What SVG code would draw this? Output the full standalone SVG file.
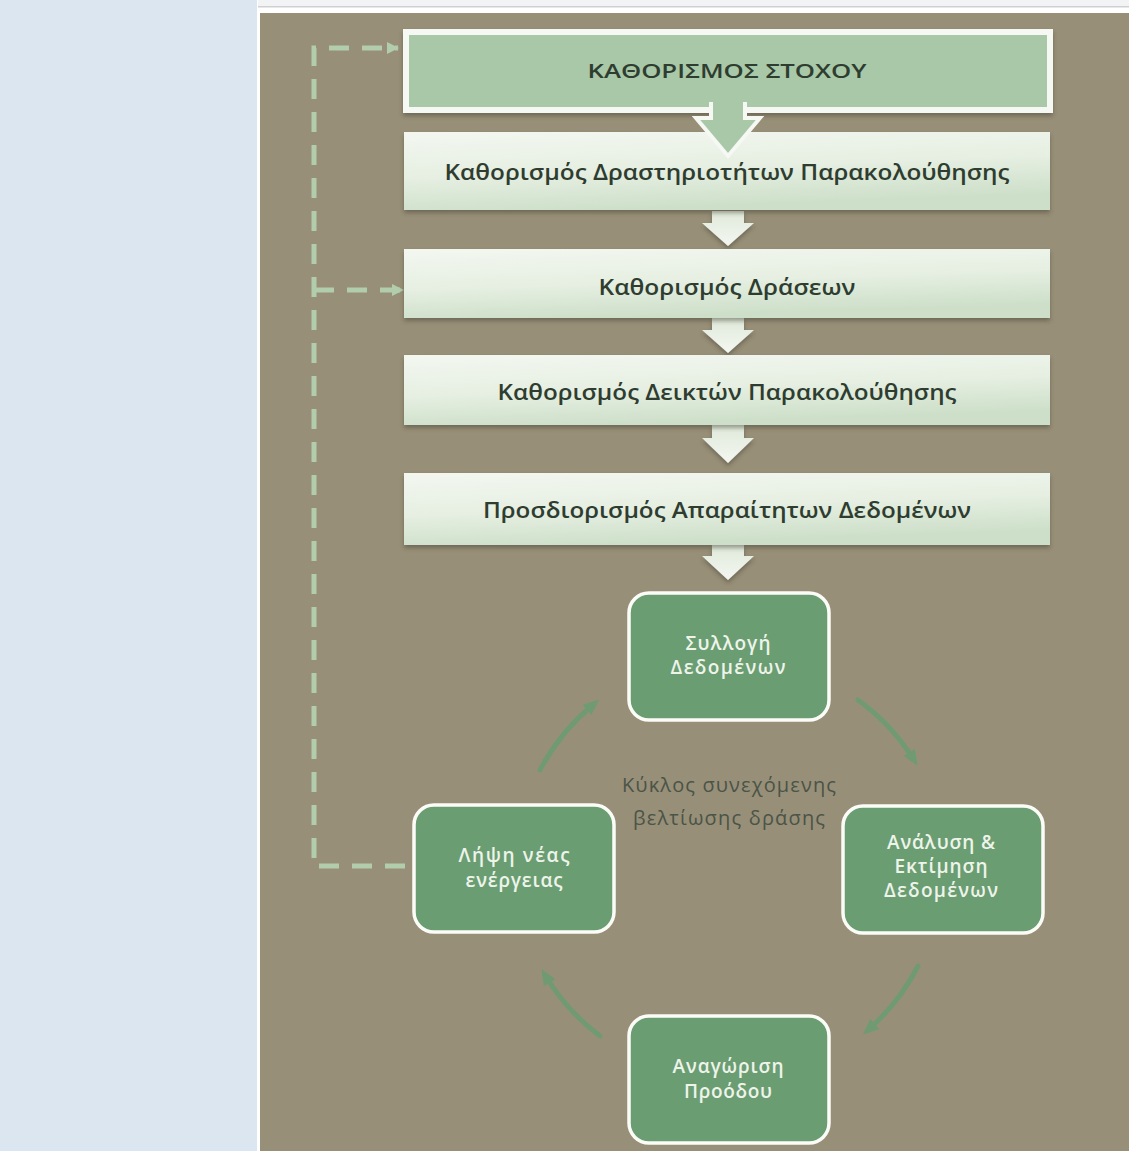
<svg xmlns="http://www.w3.org/2000/svg" width="1129" height="1151" viewBox="0 0 1129 1151">
<style>
.step{font-family:"Open Sans","Noto Sans",sans-serif;font-weight:600;fill:#2e3d30;text-anchor:middle}
.cyc{font-family:"Open Sans","Noto Sans",sans-serif;font-weight:600;font-size:19px;fill:#eef4ea;text-anchor:middle}
.ctr{font-family:"Open Sans","Noto Sans",sans-serif;font-size:20px;fill:#4a5447;text-anchor:middle}
.cbox{fill:#6a9d72;stroke:#fbfcf7;stroke-width:3.5}
.sbox{fill:url(#gBox);filter:url(#sh)}
.darr{fill:url(#gArr);filter:url(#sh)}
.dash{fill:none;stroke:#b2cdac;stroke-width:5;stroke-dasharray:20 13}
.carc{fill:none;stroke:#6a9d72;stroke-width:5;stroke-linecap:round;opacity:0.85}
</style>
<defs>
<linearGradient id="gBox" x1="0" y1="0" x2="0.3" y2="1">
<stop offset="0" stop-color="#f3f7f0"/>
<stop offset="0.55" stop-color="#e6efe2"/>
<stop offset="1" stop-color="#cddfc9"/>
</linearGradient>
<linearGradient id="gArr" x1="0" y1="0" x2="0" y2="1">
<stop offset="0" stop-color="#dfe9da"/>
<stop offset="1" stop-color="#f4f7f1"/>
</linearGradient>
<filter id="sh" x="-5%" y="-10%" width="110%" height="130%">
<feDropShadow dx="0" dy="3" stdDeviation="2" flood-color="#3a3a2a" flood-opacity="0.45"/>
</filter>
<marker id="mDash" viewBox="0 0 12 12" refX="11" refY="6" markerWidth="12" markerHeight="12" markerUnits="userSpaceOnUse" orient="auto">
<path d="M0,0 L12,6 L0,12 Z" fill="#b2cdac"/>
</marker>
<marker id="mCyc" viewBox="0 0 14 14" refX="8" refY="7" markerWidth="16" markerHeight="16" markerUnits="userSpaceOnUse" orient="auto">
<path d="M0,1 L14,7 L0,13 Z" fill="#6a9d72"/>
</marker>
</defs>

<!-- background -->
<rect x="0" y="0" width="1129" height="1151" fill="#ffffff"/>
<rect x="0" y="0" width="257" height="1151" fill="#dce6f1"/>
<rect x="258" y="0" width="871" height="6" fill="#f2f3f5"/>
<rect x="258" y="6" width="871" height="1.5" fill="#cfd0d2"/>
<rect x="260" y="13" width="869" height="1138" fill="#988f78"/>

<!-- connectors -->
<g id="connectors">
<path class="dash" d="M405,866 H314 V48 H398" marker-end="url(#mDash)"/>
<path class="dash" d="M314,290 H403" marker-end="url(#mDash)"/>
<polygon class="darr" points="712,211 744,211 744,223 754,223 728,246 702,223 712,223"/>
<polygon class="darr" points="712,318 744,318 744,330 754,330 728,353 702,330 712,330"/>
<polygon class="darr" points="712,425 744,425 744,438 754,438 728,463 702,438 712,438"/>
<polygon class="darr" points="712,545 744,545 744,556 754,556 728,580 702,556 712,556"/>
<path class="carc" d="M858,700 A214,214 0 0 1 914,760" marker-end="url(#mCyc)"/>
<path class="carc" d="M918,966 A214,214 0 0 1 868,1030" marker-end="url(#mCyc)"/>
<path class="carc" d="M600,1036 A214,214 0 0 1 545,975" marker-end="url(#mCyc)"/>
<path class="carc" d="M540,770 A214,214 0 0 1 594,704" marker-end="url(#mCyc)"/>
</g>

<g id="n2">
<rect class="sbox" x="404" y="132" width="646" height="78"/>
<text class="step" x="727" y="180" font-size="21" textLength="565" lengthAdjust="spacingAndGlyphs">Καθορισμός Δραστηριοτήτων Παρακολούθησης</text>
</g>

<g id="n1">
<rect x="403" y="29" width="650" height="84" fill="#f6f8f3" filter="url(#sh)"/>
<rect x="409" y="35" width="638" height="72" fill="#a9c8a8"/>
<text class="step" x="727" y="78" font-size="20" font-weight="500" textLength="279" lengthAdjust="spacingAndGlyphs">ΚΑΘΟΡΙΣΜΟΣ ΣΤΟΧΟΥ</text>
<polygon points="711,104 745,104 745,118 760,118 728,156 696,118 711,118" fill="#a9c8a8" stroke="#f6f8f3" stroke-width="4" stroke-linejoin="miter"/>
<rect x="713" y="98" width="30" height="10" fill="#a9c8a8"/>
</g>

<g id="n3">
<rect class="sbox" x="404" y="249" width="646" height="69"/>
<text class="step" x="727" y="295" font-size="21" textLength="257" lengthAdjust="spacingAndGlyphs">Καθορισμός Δράσεων</text>
</g>

<g id="n4">
<rect class="sbox" x="404" y="355" width="646" height="70"/>
<text class="step" x="727" y="400" font-size="21" textLength="459" lengthAdjust="spacingAndGlyphs">Καθορισμός Δεικτών Παρακολούθησης</text>
</g>

<g id="n5">
<rect class="sbox" x="404" y="473" width="646" height="72"/>
<text class="step" x="727" y="518" font-size="21" textLength="488" lengthAdjust="spacingAndGlyphs">Προσδιορισμός Απαραίτητων Δεδομένων</text>
</g>

<g id="c1">
<rect class="cbox" x="629" y="593" width="200" height="127" rx="20"/>
<text class="cyc" x="728" y="650" textLength="85">Συλλογή</text>
<text class="cyc" x="728" y="674" textLength="115">Δεδομένων</text>
</g>

<g id="c2">
<rect class="cbox" x="843" y="806" width="200" height="127" rx="20"/>
<text class="cyc" x="941" y="849" font-size="17" textLength="108">Ανάλυση &amp;</text>
<text class="cyc" x="941" y="873" font-size="17" textLength="93">Εκτίμηση</text>
<text class="cyc" x="941" y="897" font-size="17" textLength="114">Δεδομένων</text>
</g>

<g id="c3">
<rect class="cbox" x="629" y="1016" width="200" height="127" rx="20"/>
<text class="cyc" x="728" y="1073" textLength="111">Αναγώριση</text>
<text class="cyc" x="728" y="1098" textLength="88">Προόδου</text>
</g>

<g id="c4">
<rect class="cbox" x="414" y="805" width="200" height="127" rx="20"/>
<text class="cyc" x="514" y="862" textLength="111">Λήψη νέας</text>
<text class="cyc" x="514" y="887" textLength="97">ενέργειας</text>
</g>

<g id="center">
<text class="ctr" x="729" y="792" textLength="214">Κύκλος συνεχόμενης</text>
<text class="ctr" x="729" y="825" textLength="192">βελτίωσης δράσης</text>
</g>
</svg>
